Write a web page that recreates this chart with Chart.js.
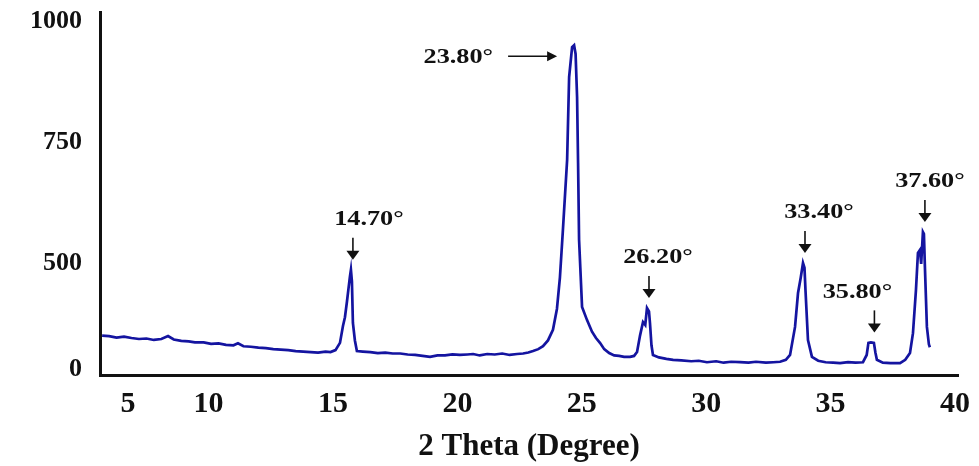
<!DOCTYPE html>
<html>
<head>
<meta charset="utf-8">
<script src="https://cdn.jsdelivr.net/npm/chart.js@4/dist/chart.umd.min.js"></script>
<style>
  html, body { margin: 0; padding: 0; background: #fff; }
  #wrap { width: 979px; height: 466px; }
</style>
</head>
<body>
<div id="wrap"><canvas id="xrd"></canvas></div>
<script>
'use strict';
// 2 theta (x) and intensity (y)
const twoTheta = [
  5.72, 6.00, 6.30, 6.60, 6.90, 7.20, 7.50, 7.80, 8.10, 8.37, 8.60, 8.90, 9.20, 9.45, 9.80,
  10.10, 10.40, 10.70, 11.00, 11.18, 11.40, 11.70, 12.00, 12.30, 12.60, 12.90, 13.20, 13.50, 13.80, 14.10,
  14.40, 14.70, 14.90, 15.10, 15.28, 15.40, 15.48, 15.56, 15.62, 15.68, 15.72, 15.76, 15.80, 15.88, 15.96,
  16.20, 16.50, 16.80, 17.10, 17.40, 17.70, 18.00, 18.30, 18.60, 18.90, 19.20, 19.50, 19.80, 20.10, 20.40,
  20.63, 20.90, 21.20, 21.50, 21.80, 22.10, 22.40, 22.64, 22.85, 23.04, 23.25, 23.44, 23.64, 23.84, 24.00,
  24.12, 24.24, 24.41, 24.49, 24.61, 24.69, 24.75, 24.81, 24.85, 24.89, 25.01, 25.21, 25.41, 25.57, 25.73,
  25.90, 26.10, 26.30, 26.50, 26.70, 26.94, 27.10, 27.22, 27.34, 27.46, 27.55, 27.62, 27.70, 27.74, 27.80,
  27.86, 28.10, 28.40, 28.67, 29.00, 29.40, 29.70, 30.03, 30.40, 30.70, 31.00, 31.36, 31.70, 32.00, 32.40,
  32.70, 32.97, 33.20, 33.37, 33.57, 33.69, 33.80, 33.89, 33.95, 33.99, 34.09, 34.25, 34.50, 34.80, 35.10,
  35.38, 35.70, 36.00, 36.30, 36.45, 36.52, 36.62, 36.74, 36.80, 36.86, 37.10, 37.40, 37.79, 38.00, 38.19,
  38.31, 38.43, 38.51, 38.59, 38.64, 38.71, 38.75, 38.79, 38.87, 38.95, 38.99
];
const intensity = [
  350, 349, 346, 348, 345, 343, 344, 341, 343, 349, 342, 339, 338, 336, 336,
  333, 334, 331, 330, 334, 328, 327, 325, 324, 322, 321, 320, 318, 317, 316,
  315, 317, 316, 320, 335, 370, 388, 420, 446, 472, 486, 462, 376, 340, 318,
  317, 316, 314, 315, 313, 313, 311, 310, 308, 306, 309, 309, 311, 310, 311,
  312, 309, 312, 311, 313, 310, 312, 313, 315, 318, 322, 328, 340, 362, 405,
  470, 568, 713, 884, 946, 950, 932, 843, 707, 548, 409, 382, 358, 345, 335,
  322, 314, 309, 308, 306, 306, 308, 316, 350, 378, 372, 407, 400, 376, 330,
  310, 305, 302, 300, 299, 297, 298, 295, 297, 294, 296, 295, 294, 296, 294,
  295, 296, 300, 310, 368, 438, 470, 500, 490, 444, 341, 306, 298, 295, 294,
  293, 295, 294, 295, 310, 335, 336, 335, 315, 300, 294, 293, 293, 300, 314,
  355, 444, 521, 527, 498, 564, 560, 492, 368, 332, 326
];

// tick labels as printed, and where they sit on the axes
const xTickValues = [6.76, 10, 15, 20, 25, 30, 35, 40];
const xTickLabels = ['5', '10', '15', '20', '25', '30', '35', '40'];
const yTickValues = [281, 500, 750, 1000];
const yTickLabels = ['0', '500', '750', '1000'];

// peak annotations
const peakLabels = ['14.70°', '23.80°', '26.20°', '33.40°', '35.80°', '37.60°'];
const peakTheta = [15.72, 24.69, 27.62, 33.89, 36.68, 38.71];
const peakHeight = [486, 950, 407, 500, 336, 564];
// layout of each label: 'down' arrow with text shift, or 'left' arrow
const peakArrow = ['down', 'left', 'down', 'down', 'down', 'down'];
const peakTextShift = [16, 0, 9, 14, -17, 5];

const points = twoTheta.map((t, i) => ({ x: t, y: intensity[i] }));

const FONT = '"Liberation Serif", "Times New Roman", serif';

function drawArrowHead(ctx, x, y, dir) {
  ctx.beginPath();
  if (dir === 'down') {
    ctx.moveTo(x, y);
    ctx.lineTo(x - 6.5, y - 9);
    ctx.lineTo(x + 6.5, y - 9);
  } else {
    ctx.moveTo(x, y);
    ctx.lineTo(x - 10, y - 5);
    ctx.lineTo(x - 10, y + 5);
  }
  ctx.closePath();
  ctx.fill();
}

// text a bit wider than the font, like the picture
function wideText(ctx, txt, x, y, align) {
  const sx = 1.25;
  ctx.save();
  ctx.translate(x, y);
  ctx.scale(sx, 1);
  ctx.textAlign = align;
  ctx.fillText(txt, 0, 0);
  ctx.restore();
}

const peakPlugin = {
  id: 'peaks',
  afterDatasetsDraw(chart) {
    const ctx = chart.ctx;
    const xs = chart.scales.x, ys = chart.scales.y;
    ctx.save();
    ctx.fillStyle = '#111';
    ctx.strokeStyle = '#111';
    ctx.lineWidth = 1.6;
    ctx.font = 'bold 21px ' + FONT;
    ctx.textBaseline = 'middle';
    for (let i = 0; i < peakLabels.length; i++) {
      const px = xs.getPixelForValue(peakTheta[i]);
      const py = ys.getPixelForValue(peakHeight[i]);
      if (peakArrow[i] === 'down') {
        const ax = px + 2;
        const tip = py - 10;
        ctx.beginPath();
        ctx.moveTo(ax, tip - 22);
        ctx.lineTo(ax, tip - 6);
        ctx.stroke();
        drawArrowHead(ctx, ax, tip, 'down');
        wideText(ctx, peakLabels[i], ax + peakTextShift[i], tip - 40, 'center');
      } else {
        const ay = py + 11;
        const tip = px - 17;
        const tail = tip - 49;
        ctx.beginPath();
        ctx.moveTo(tail, ay);
        ctx.lineTo(tip - 8, ay);
        ctx.stroke();
        drawArrowHead(ctx, tip, ay, 'left');
        wideText(ctx, peakLabels[i], tail - 15, ay + 1, 'right');
      }
    }
    ctx.restore();
  }
};

const data = {
  datasets: [{
    label: 'XRD',
    data: points,
    borderColor: '#1414a0',
    borderWidth: 2.7,
    pointRadius: 0,
    tension: 0,
    fill: false
  }]
};

const config = {
  type: 'line',
  data: data,
  options: {
    responsive: true,
    maintainAspectRatio: false,
    animation: false,
    layout: { padding: { top: 12, right: 21, left: 0, bottom: 0 } },
    plugins: {
      legend: { display: false },
      tooltip: { enabled: false }
    },
    scales: {
      x: {
        type: 'linear',
        min: 5.635,
        max: 40.12,
        afterBuildTicks: (axis) => {
          axis.ticks = xTickValues.map(v => ({ value: v }));
        },
        afterFit: (axis) => {
          axis.height = 91;
          axis.paddingLeft = 0;
          axis.paddingRight = 0;
        },
        ticks: {
          autoSkip: false,
          maxRotation: 0,
          padding: 11,
          color: '#111',
          font: { family: FONT, size: 30, weight: 'bold' },
          callback: (v, i) => xTickLabels[i]
        },
        grid: { color: 'transparent', drawTicks: false },
        border: { display: true, color: '#111', width: 3 },
        title: {
          display: true,
          text: '2 Theta (Degree)',
          color: '#111',
          font: { family: FONT, size: 31, weight: 'bold' },
          padding: { top: 0, bottom: 0 }
        }
      },
      y: {
        type: 'linear',
        min: 268.6,
        max: 1018.6,
        afterBuildTicks: (axis) => {
          axis.ticks = yTickValues.map(v => ({ value: v }));
        },
        afterFit: (axis) => {
          axis.width = 100;
          axis.paddingTop = 0;
          axis.paddingBottom = 0;
        },
        ticks: {
          autoSkip: false,
          padding: 18,
          color: '#111',
          font: { family: FONT, size: 26, weight: 'bold' },
          callback: (v, i) => yTickLabels[i]
        },
        grid: { color: 'transparent', drawTicks: false },
        border: { display: true, color: '#111', width: 3 }
      }
    }
  },
  plugins: [peakPlugin]
};

const myChart = new Chart(document.getElementById('xrd'), config);
</script>
</body>
</html>
